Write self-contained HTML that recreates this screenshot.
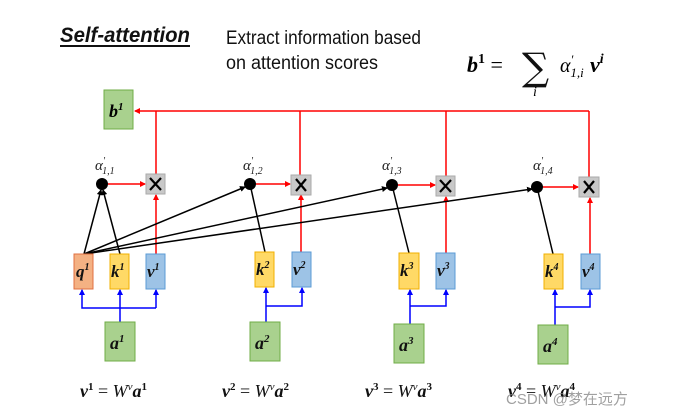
<!DOCTYPE html>
<html><head><meta charset="utf-8"><style>
html,body{margin:0;padding:0;background:#fff;}
svg{display:block;}
.m{font-family:"Liberation Serif",serif;font-weight:bold;font-style:italic;}
</style></head><body>
<svg width="673" height="414" viewBox="0 0 673 414" xmlns="http://www.w3.org/2000/svg">
<defs>
<marker id="ar" markerWidth="6" markerHeight="6" refX="5" refY="3" orient="auto" markerUnits="userSpaceOnUse"><path d="M0,0 L6,3 L0,6 z" fill="#f00"/></marker>
<marker id="ab" markerWidth="6" markerHeight="6" refX="5" refY="3" orient="auto" markerUnits="userSpaceOnUse"><path d="M0,0 L6,3 L0,6 z" fill="#00f"/></marker>
<marker id="ak" markerWidth="6" markerHeight="6" refX="5" refY="3" orient="auto" markerUnits="userSpaceOnUse"><path d="M0,0 L6,3 L0,6 z" fill="#000"/></marker>
</defs>
<!-- header -->
<text x="60" y="42" font-family="Liberation Sans,sans-serif" font-size="21" font-weight="bold" font-style="italic" fill="#111" textLength="130" lengthAdjust="spacingAndGlyphs">Self-attention</text>
<line x1="60" y1="46" x2="190" y2="46" stroke="#111" stroke-width="2"/>
<text x="226" y="44" font-family="Liberation Sans,sans-serif" font-size="19" fill="#111" textLength="195" lengthAdjust="spacingAndGlyphs">Extract information based</text>
<text x="226" y="69" font-family="Liberation Sans,sans-serif" font-size="19" fill="#111" textLength="152" lengthAdjust="spacingAndGlyphs">on attention scores</text>
<text x="467" y="72" class="m" font-size="22">b<tspan font-size="14" dy="-9" font-style="normal">1</tspan><tspan dy="9" font-weight="normal" font-style="normal"> = </tspan></text>
<text x="522" y="80" font-family="DejaVu Serif,serif" font-size="38" fill="#111">∑</text>
<text x="533" y="96" font-family="Liberation Serif,serif" font-style="italic" font-size="14">i</text>
<text x="560" y="72" font-family="Liberation Serif,serif" font-style="italic" font-size="20">α<tspan font-size="13" dy="-8">′</tspan><tspan font-size="13" dy="13" dx="-3">1,i</tspan></text>
<text x="590" y="72" class="m" font-size="22">v<tspan font-size="14" dy="-9">i</tspan></text>

<g stroke="#f00" stroke-width="1.5" fill="none">
<line x1="589" y1="111" x2="135" y2="111" marker-end="url(#ar)"/>
<line x1="156" y1="111" x2="156" y2="174"/>
<line x1="300" y1="111" x2="300" y2="175"/>
<line x1="446" y1="111" x2="446" y2="176"/>
<line x1="589" y1="111" x2="589" y2="177"/>
<line x1="108" y1="184" x2="145" y2="184" marker-end="url(#ar)"/>
<line x1="256" y1="184" x2="290" y2="184" marker-end="url(#ar)"/>
<line x1="398" y1="185" x2="435" y2="185" marker-end="url(#ar)"/>
<line x1="543" y1="187" x2="578" y2="187" marker-end="url(#ar)"/>
<line x1="156" y1="254" x2="156" y2="195" marker-end="url(#ar)"/>
<line x1="301" y1="252" x2="301" y2="195" marker-end="url(#ar)"/>
<line x1="446" y1="253" x2="446" y2="197" marker-end="url(#ar)"/>
<line x1="590" y1="254" x2="590" y2="198" marker-end="url(#ar)"/>
</g>
<g stroke="#000" stroke-width="1.5">
<line x1="84" y1="254" x2="101" y2="190" marker-end="url(#ak)"/>
<line x1="120" y1="254" x2="103" y2="190" marker-end="url(#ak)"/>
<line x1="84" y1="254" x2="245" y2="187" marker-end="url(#ak)"/>
<line x1="84" y1="254" x2="387" y2="188" marker-end="url(#ak)"/>
<line x1="84" y1="254" x2="532" y2="189" marker-end="url(#ak)"/>
<line x1="265" y1="252" x2="250" y2="184"/>
<line x1="409" y1="253" x2="392" y2="185"/>
<line x1="553" y1="254" x2="537" y2="187"/>
</g>
<g fill="#000">
<circle cx="102" cy="184" r="6"/><circle cx="250" cy="184" r="6"/><circle cx="392" cy="185" r="6"/><circle cx="537" cy="187" r="6"/>
</g>
<g font-family="Liberation Serif,serif" font-style="italic" font-size="15" fill="#222">
<text x="95" y="170">α<tspan font-size="10" dy="-6">′</tspan><tspan font-size="10" dy="10" dx="-3">1,1</tspan></text>
<text x="243" y="170">α<tspan font-size="10" dy="-6">′</tspan><tspan font-size="10" dy="10" dx="-3">1,2</tspan></text>
<text x="382" y="170">α<tspan font-size="10" dy="-6">′</tspan><tspan font-size="10" dy="10" dx="-3">1,3</tspan></text>
<text x="533" y="170">α<tspan font-size="10" dy="-6">′</tspan><tspan font-size="10" dy="10" dx="-3">1,4</tspan></text>
</g>
<g fill="#c8c8c8" stroke="#aaa">
<rect x="146" y="174" width="19" height="20"/><rect x="291" y="175" width="20" height="20"/>
<rect x="436" y="176" width="19" height="20"/><rect x="579" y="177" width="20" height="20"/>
</g>
<g stroke="#000" stroke-width="2.2">
<path d="M150,178 L161,190 M161,178 L150,190"/>
<path d="M296,179 L306,191 M306,179 L296,191"/>
<path d="M440,180 L451,192 M451,180 L440,192"/>
<path d="M584,181 L594,193 M594,181 L584,193"/>
</g>
<rect x="104" y="90" width="29" height="39" fill="#a9d18e" stroke="#70ad47"/>
<text x="109" y="117" class="m" font-size="18">b<tspan font-size="11" dy="-7">1</tspan></text>
<g>
<rect x="74" y="254" width="19" height="35" fill="#f4b183" stroke="#e07040"/>
<rect x="110" y="254" width="19" height="35" fill="#ffd966" stroke="#f0b000"/>
<rect x="146" y="254" width="19" height="35" fill="#9dc3e6" stroke="#5b9bd5"/>
<rect x="255" y="252" width="19" height="35" fill="#ffd966" stroke="#f0b000"/>
<rect x="292" y="252" width="19" height="35" fill="#9dc3e6" stroke="#5b9bd5"/>
<rect x="399" y="253" width="20" height="36" fill="#ffd966" stroke="#f0b000"/>
<rect x="436" y="253" width="19" height="36" fill="#9dc3e6" stroke="#5b9bd5"/>
<rect x="544" y="254" width="19" height="35" fill="#ffd966" stroke="#f0b000"/>
<rect x="581" y="254" width="19" height="35" fill="#9dc3e6" stroke="#5b9bd5"/>
</g>
<g class="m" font-size="17" fill="#111">
<text x="76" y="277">q<tspan font-size="10" dy="-7">1</tspan></text>
<text x="111" y="277">k<tspan font-size="10" dy="-7">1</tspan></text>
<text x="147" y="277">v<tspan font-size="10" dy="-7">1</tspan></text>
<text x="256" y="275">k<tspan font-size="10" dy="-7">2</tspan></text>
<text x="293" y="275">v<tspan font-size="10" dy="-7">2</tspan></text>
<text x="400" y="276">k<tspan font-size="10" dy="-7">3</tspan></text>
<text x="437" y="276">v<tspan font-size="10" dy="-7">3</tspan></text>
<text x="545" y="277">k<tspan font-size="10" dy="-7">4</tspan></text>
<text x="582" y="277">v<tspan font-size="10" dy="-7">4</tspan></text>
</g>
<g stroke="#00f" stroke-width="1.5" fill="none">
<line x1="120" y1="322" x2="120" y2="290" marker-end="url(#ab)"/>
<polyline points="156,308 82,308 82,290" marker-end="url(#ab)"/>
<line x1="156" y1="308" x2="156" y2="290" marker-end="url(#ab)"/>
<line x1="266" y1="322" x2="266" y2="288" marker-end="url(#ab)"/>
<polyline points="266,306 302,306 302,288" marker-end="url(#ab)"/>
<line x1="410" y1="324" x2="410" y2="290" marker-end="url(#ab)"/>
<polyline points="410,306 446,306 446,290" marker-end="url(#ab)"/>
<line x1="555" y1="325" x2="555" y2="290" marker-end="url(#ab)"/>
<polyline points="555,307 590,307 590,290" marker-end="url(#ab)"/>
</g>
<g fill="#a9d18e" stroke="#70ad47">
<rect x="105" y="322" width="30" height="39"/><rect x="250" y="322" width="30" height="39"/>
<rect x="394" y="324" width="30" height="39"/><rect x="538" y="325" width="30" height="39"/>
</g>
<g class="m" font-size="18" fill="#111">
<text x="110" y="349">a<tspan font-size="11" dy="-7">1</tspan></text>
<text x="255" y="349">a<tspan font-size="11" dy="-7">2</tspan></text>
<text x="399" y="351">a<tspan font-size="11" dy="-7">3</tspan></text>
<text x="543" y="352">a<tspan font-size="11" dy="-7">4</tspan></text>
</g>
<g font-family="Liberation Serif,serif" font-size="18" fill="#111">
<text x="80" y="397"><tspan class="m">v</tspan><tspan font-size="11" dy="-7" font-weight="bold">1</tspan><tspan dy="7"> = </tspan><tspan font-style="italic">W</tspan><tspan font-size="11" dy="-7" font-style="italic">v</tspan><tspan dy="7" class="m">a</tspan><tspan font-size="11" dy="-7" font-weight="bold">1</tspan></text>
<text x="222" y="397"><tspan class="m">v</tspan><tspan font-size="11" dy="-7" font-weight="bold">2</tspan><tspan dy="7"> = </tspan><tspan font-style="italic">W</tspan><tspan font-size="11" dy="-7" font-style="italic">v</tspan><tspan dy="7" class="m">a</tspan><tspan font-size="11" dy="-7" font-weight="bold">2</tspan></text>
<text x="365" y="397"><tspan class="m">v</tspan><tspan font-size="11" dy="-7" font-weight="bold">3</tspan><tspan dy="7"> = </tspan><tspan font-style="italic">W</tspan><tspan font-size="11" dy="-7" font-style="italic">v</tspan><tspan dy="7" class="m">a</tspan><tspan font-size="11" dy="-7" font-weight="bold">3</tspan></text>
<text x="508" y="397"><tspan class="m">v</tspan><tspan font-size="11" dy="-7" font-weight="bold">4</tspan><tspan dy="7"> = </tspan><tspan font-style="italic">W</tspan><tspan font-size="11" dy="-7" font-style="italic">v</tspan><tspan dy="7" class="m">a</tspan><tspan font-size="11" dy="-7" font-weight="bold">4</tspan></text>
</g>
<text x="506" y="404" font-family="Liberation Sans,'Noto Sans CJK SC',sans-serif" font-size="15" fill="#888" fill-opacity="0.8">CSDN @梦在远方</text>
</svg>
</body></html>
